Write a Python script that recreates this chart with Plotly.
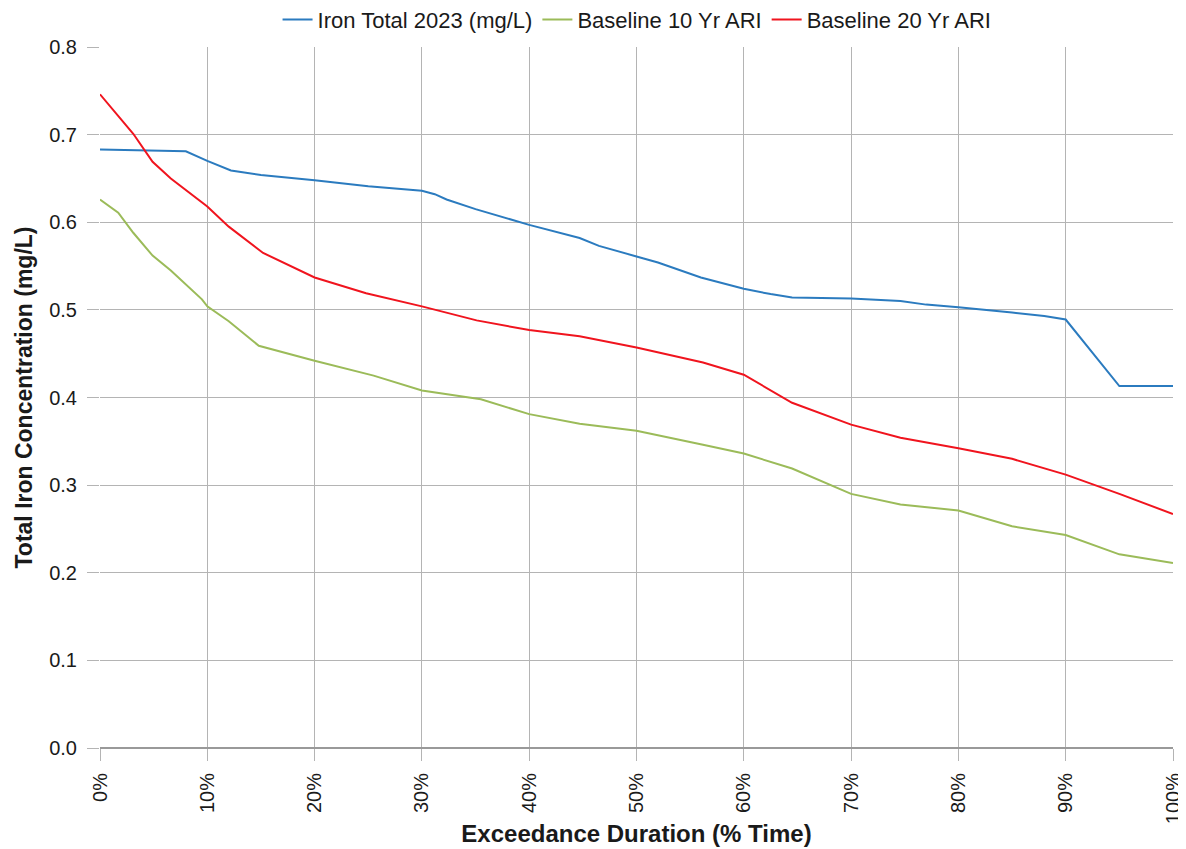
import plotly.graph_objects as go

# Data
blue_x = [0, 8, 10, 12.2, 15, 20, 25, 30, 31.2, 32.3, 35, 40, 44.7, 46.5, 50, 52, 56, 60, 62.5, 64.5, 70, 74.6, 77, 80, 85, 88, 90, 95, 100]
blue_y = [0.683, 0.681, 0.670, 0.659, 0.654, 0.648, 0.641, 0.636, 0.632, 0.626, 0.615, 0.597, 0.582, 0.573, 0.561, 0.554, 0.537, 0.524, 0.518, 0.514, 0.513, 0.510, 0.506, 0.503, 0.497, 0.493, 0.489, 0.413, 0.413]

red_x = [0, 1.7, 3.1, 4.9, 6.6, 10, 12, 15.2, 20, 24.8, 30, 35.1, 40, 44.7, 50, 56.2, 60, 64.5, 67, 70, 74.6, 80, 85, 90, 95, 100]
red_y = [0.746, 0.722, 0.701, 0.669, 0.650, 0.618, 0.595, 0.565, 0.537, 0.519, 0.504, 0.488, 0.477, 0.470, 0.457, 0.440, 0.426, 0.394, 0.383, 0.369, 0.354, 0.342, 0.330, 0.312, 0.290, 0.267]

green_x = [0, 1.7, 3.1, 4.9, 6.6, 9.5, 10, 12, 14.8, 20, 25.5, 30, 35.5, 40, 44.7, 50, 56.2, 60, 64.5, 70, 74.6, 80, 85, 90, 95, 100]
green_y = [0.626, 0.611, 0.588, 0.562, 0.545, 0.512, 0.504, 0.487, 0.459, 0.442, 0.425, 0.408, 0.398, 0.381, 0.370, 0.362, 0.346, 0.336, 0.319, 0.290, 0.278, 0.271, 0.253, 0.243, 0.221, 0.211]

series_names = ["Iron Total 2023 (mg/L)", "Baseline 10 Yr ARI", "Baseline 20 Yr ARI"]
x_ticks = [0, 10, 20, 30, 40, 50, 60, 70, 80, 90, 100]
x_tick_labels = ["0%", "10%", "20%", "30%", "40%", "50%", "60%", "70%", "80%", "90%", "100%"]
y_ticks = [0.0, 0.1, 0.2, 0.3, 0.4, 0.5, 0.6, 0.7, 0.8]

fig = go.Figure()
fig.add_trace(go.Scatter(x=blue_x, y=blue_y, mode="lines", name=series_names[0],
                         line=dict(color="#2B7BBF", width=2)))
fig.add_trace(go.Scatter(x=green_x, y=green_y, mode="lines", name=series_names[1],
                         line=dict(color="#9BBB59", width=2)))
fig.add_trace(go.Scatter(x=red_x, y=red_y, mode="lines", name=series_names[2],
                         line=dict(color="#F0141E", width=2)))

# The page body has an 8px margin, so the figure is sized to fit the 1186x849 window.
font_family = "Liberation Sans, Arial, sans-serif"
fig.update_layout(
    width=1178, height=841,
    margin=dict(l=92, r=13, t=39, b=101, autoexpand=False),
    paper_bgcolor="white", plot_bgcolor="white",
    font=dict(family=font_family, size=20, color="#1a1a1a"),
    showlegend=True,
    legend=dict(orientation="h", x=0.534, xanchor="center", xref="container",
                y=0.986, yanchor="middle", yref="container",
                font=dict(size=22), itemwidth=30, tracegroupgap=0,
                bgcolor="rgba(0,0,0,0)"),
    xaxis=dict(
        range=[0, 100], tickmode="array", tickvals=x_ticks, ticktext=x_tick_labels,
        tickangle=-90, showgrid=True, gridcolor="#B4B4B4", gridwidth=1,
        ticks="outside", ticklen=12, tickcolor="#B4B4B4", ticklabelstandoff=4,
        showline=False, zeroline=False, automargin=False,
        title=dict(text="<b>Exceedance Duration (% Time)</b>", font=dict(size=24), standoff=2),
        tickfont=dict(size=20),
    ),
    yaxis=dict(
        range=[0, 0.8], tickmode="array", tickvals=y_ticks, tickformat=".1f",
        showgrid=True, gridcolor="#B4B4B4", gridwidth=1,
        ticks="outside", ticklen=12, tickcolor="#B4B4B4", ticklabelstandoff=6,
        showline=False, zeroline=True, zerolinecolor="#999999", zerolinewidth=2,
        automargin=False,
        title=dict(text="<b>Total Iron Concentration (mg/L)</b>", font=dict(size=23), standoff=10),
        tickfont=dict(size=20),
    ),
)

fig.write_html("out.html")
